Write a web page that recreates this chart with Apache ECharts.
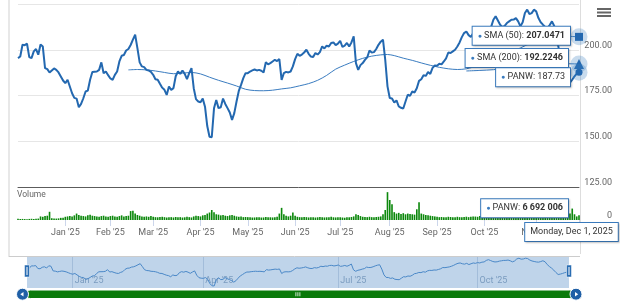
<!DOCTYPE html>
<html><head><meta charset="utf-8">
<script src="https://cdn.jsdelivr.net/npm/echarts@6/dist/echarts.min.js"></script>
<style>html,body{margin:0;padding:0;background:#fff;}#chart{width:620px;height:303px;}</style>
</head><body><div id="chart"></div>
<script>
// ---------- DATA ----------
const tradingMonths = [
  ['2024-12', [2,3,4,5,6,9,10,11,12,13,16,17,18,19,20,23,24,26,27,30,31]],
  ['2025-01', [2,3,6,7,8,10,13,14,15,16,17,21,22,23,24,27,28,29,30,31]],
  ['2025-02', [3,4,5,6,7,10,11,12,13,14,18,19,20,21,24,25,26,27,28]],
  ['2025-03', [3,4,5,6,7,10,11,12,13,14,17,18,19,20,21,24,25,26,27,28,31]],
  ['2025-04', [1,2,3,4,7,8,9,10,11,14,15,16,17,21,22,23,24,25,28,29,30]],
  ['2025-05', [1,2,5,6,7,8,9,12,13,14,15,16,19,20,21,22,23,27,28,29,30]],
  ['2025-06', [2,3,4,5,6,9,10,11,12,13,16,17,18,20,23,24,25,26,27,30]],
  ['2025-07', [1,2,3,7,8,9,10,11,14,15,16,17,18,21,22,23,24,25,28,29,30,31]],
  ['2025-08', [1,4,5,6,7,8,11,12,13,14,15,18,19,20,21,22,25,26,27,28,29]],
  ['2025-09', [2,3,4,5,8,9,10,11,12,15,16,17,18,19,22,23,24,25,26,29,30]],
  ['2025-10', [1,2,3,6,7,8,9,10,13,14,15,16,17,20,21,22,23,24,27,28,29,30,31]],
  ['2025-11', [3,4,5,6,7,10,11,12,13,14,17,18,19,20,21,24,25,26,28]],
  ['2025-12', [1]]
];

// PANW closing prices per month
const closeDec24 = [195.4,196.3,202.7,202.5,203.3,196.0,195.4,199.1,200.4,197.3,202.9,201.8,190.0,189.4,187.6,188.7,189.8,189.0,187.6,185.4,183.2];
const closeJan25 = [181.7,183.6,179.9,176.2,173.7,173.3,168.6,170.4,173.5,177.2,177.7,183.6,187.8,188.0,188.1,189.0,193.1,187.2,188.1,186.1];
const closeFeb25 = [184.3,183.6,186.3,188.1,193.6,196.7,197.1,199.6,200.4,202.6,205.5,208.2,200.9,193.1,190.9,190.5,189.0,188.7,187.9];
const closeMar25 = [186.3,183.9,183.6,181.4,179.3,178.1,175.3,179.9,178.1,179.0,185.5,188.1,186.8,188.7,186.8,183.9,187.2,190.0,179.0,173.0,171.7];
const closeApr25 = [171.3,173.3,168.9,158.3,152.5,152.2,168.0,172.6,168.1,168.6,173.3,170.4,168.1,165.7,161.7,165.4,171.7,177.5,180.8,184.5,187.2];
const closeMay25 = [187.2,188.1,188.7,189.2,188.7,189.0,188.5,187.6,193.2,192.0,192.7,193.6,194.5,193.8,194.9,183.5,187.2,187.9,187.6,188.1,190.9];
const closeJun25 = [194.9,197.8,196.7,197.4,198.5,200.0,197.8,196.3,196.0,198.2,197.4,198.7,201.8,200.7,202.2,201.8,203.7,204.0,202.5,203.3];
const closeJul25 = [204.9,201.5,202.2,203.7,201.8,204.0,207.3,192.7,189.0,191.6,192.7,194.5,195.8,199.6,198.5,198.7,200.4,202.7,204.4,205.5,194.5,180.0];
const closeAug25 = [173.6,173.4,171.2,172.3,169.0,168.3,167.9,171.7,175.4,174.8,177.2,176.6,179.0,183.0,183.9,186.1,185.7,187.9,186.8,190.1,191.4];
const closeSep25 = [191.2,192.3,192.0,193.6,195.3,198.5,198.2,199.1,200.0,201.8,204.0,206.9,209.1,210.0,208.0,207.0,209.0,206.0,208.0,210.0,209.0];
const closeOct25 = [211.0,210.0,212.0,212.5,216.4,218.3,216.0,213.7,212.5,213.0,214.6,215.5,216.4,216.5,217.3,215.5,212.8,215.0,220.1,221.9,219.5,220.0,221.9];
const closeNov25 = [221.0,217.3,215.0,213.7,212.5,212.0,213.5,215.5,213.0,206.0,201.0,197.0,192.0,186.0,181.0,182.0,183.6,185.5,187.0];
const closeDec25 = [187.73];

// Volume per month, millions of shares
const volDec24 = [1.6,1.4,1.5,1.3,1.2,1.5,1.7,1.4,1.6,2.0,5.0,4.5,5.5,6.0,11.5,2.5,2.2,2.0,2.3,3.0,3.2];
const volJan25 = [4.5,5.0,5.5,4.8,6.5,9.0,7.0,6.0,5.5,5.0,6.5,7.5,6.0,5.5,5.0,4.5,5.5,6.0,5.0,4.5];
const volFeb25 = [5.5,6.0,5.0,4.5,5.5,6.5,5.0,5.5,6.0,12.5,13.0,9.0,7.0,6.0,5.0,4.5,5.0,4.5,5.5];
const volMar25 = [4.5,4.0,3.8,4.2,4.5,4.0,3.5,3.8,4.0,3.6,4.2,3.8,4.0,3.5,3.8,4.5,4.0,3.6,5.0,6.0,5.5];
const volApr25 = [5.0,6.5,7.0,9.0,10.5,14.0,11.0,8.0,7.5,6.5,7.0,6.0,5.5,6.5,7.0,6.0,5.0,4.5,5.0,4.0,4.2];
const volMay25 = [4.0,3.8,3.5,3.6,4.0,3.8,3.5,3.6,4.2,4.0,3.8,3.6,4.0,4.5,9.0,17.0,8.0,6.0,5.0,6.0,10.5];
const volJun25 = [6.0,4.5,4.0,3.8,4.2,4.0,3.6,3.8,4.0,3.5,3.8,4.2,4.0,3.6,3.8,4.0,4.5,3.8,3.6,4.0];
const volJul25 = [4.0,3.5,3.2,4.0,3.8,4.2,5.0,8.0,7.0,5.5,4.5,4.2,4.0,4.5,4.0,3.8,4.2,4.5,5.0,8.0,14.0,39.0];
const volAug25 = [28.0,22.0,11.0,9.0,10.0,8.5,9.5,8.0,9.0,8.5,8.0,7.5,15.0,25.0,9.0,8.0,7.0,6.5,6.0,5.5,5.0];
const volSep25 = [4.5,4.0,4.2,3.8,4.0,4.5,4.2,3.8,4.0,4.5,4.0,3.8,4.2,4.6,4.0,4.5,5.0,4.8,4.5,5.5,5.0];
const volOct25 = [5.0,4.5,4.8,5.5,5.0,4.8,5.2,5.5,5.0,4.5,4.8,5.0,5.5,6.0,5.0,4.8,5.2,5.5,6.0,6.5,6.0,5.5,5.0];
const volNov25 = [5.5,7.0,6.0,5.5,5.0,5.5,5.0,4.8,5.2,6.0,7.0,8.0,9.0,18.0,14.0,9.0,16.0,8.0,5.0];
const volDec25 = [6.692006];

// SMA readings: [trading-day index, value]
const sma50Points = [[49,189.0],[53,189.2],[57,189.0],[61,188.4],[65,187.6],[69,186.9],[73,187.2],[77,187.6],[81,186.8],[85,185.0],[89,183.3],[93,181.8],[97,180.2],[101,178.4],[105,177.7],[109,177.6],[113,177.9],[117,178.6],[121,179.2],[125,180.3],[129,181.5],[133,183.3],[137,186.0],[141,189.4],[145,191.6],[149,193.6],[153,195.3],[157,196.5],[161,197.2],[164,197.4],[167,196.8],[171,195.4],[175,194.2],[179,192.8],[183,191.5],[187,190.4],[191,189.6],[195,189.2],[199,189.6],[205,191.6],[211,194.3],[217,197.6],[223,201.0],[229,204.3],[235,206.4],[241,207.4],[245,207.3],[249,207.0471]];
const sma200Points = [[199,188.4],[205,188.7],[211,189.1],[217,190.0],[223,191.0],[229,191.9],[235,192.4],[241,192.4],[249,192.2246]];

const priceTicks = [125,150,175,200,225];
const monthNames = ['Jan','Feb','Mar','Apr','May','Jun','Jul','Aug','Sep','Oct','Nov','Dec'];
const dayNames = ['Sunday','Monday','Tuesday','Wednesday','Thursday','Friday','Saturday'];

// ---------- BUILD ----------
const dates = [];
tradingMonths.forEach(m => m[1].forEach(d => dates.push(m[0] + '-' + String(d).padStart(2,'0'))));
const close = [].concat(closeDec24,closeJan25,closeFeb25,closeMar25,closeApr25,closeMay25,closeJun25,closeJul25,closeAug25,closeSep25,closeOct25,closeNov25,closeDec25);
const volume = [].concat(volDec24,volJan25,volFeb25,volMar25,volApr25,volMay25,volJun25,volJul25,volAug25,volSep25,volOct25,volNov25,volDec25).map(v => Math.round(v*1e6));
const sma50 = sma50Points.map(p => [dates[p[0]], p[1]]);
const sma200 = sma200Points.map(p => [dates[p[0]], p[1]]);

const lastI = dates.length - 1, lastDate = dates[lastI];
const isMonthStart = i => i > 0 && dates[i].slice(0,7) !== dates[i-1].slice(0,7);
const isQuarterStart = i => isMonthStart(i) && ['01','04','07','10'].includes(dates[i].slice(5,7));
const monLabel = d => monthNames[+d.slice(5,7)-1] + " '" + d.slice(2,4);
const fmtThousands = v => String(v).replace(/\B(?=(\d{3})+(?!\d))/g, ' ');
const dObj = new Date(lastDate + 'T12:00:00');
const longDate = dayNames[dObj.getDay()] + ', ' + monthNames[dObj.getMonth()] + ' ' + dObj.getDate() + ', ' + dObj.getFullYear();

const FONT = 'Roboto';
const PRICE_C = '#2368b0', SMA_C = '#3a7cc0', BOX_C = '#3b7cbf', VOL_C = '#0c880c', HALO = 'rgba(58,124,192,0.28)';

function boxLabel(text, dist, dy, pos) {
  return {
    show: true, position: pos || 'left', distance: dist, offset: [pos === 'bottom' ? dy : 0, pos === 'bottom' ? 0 : dy],
    formatter: text, fontSize: 9, color: '#333', fontFamily: FONT, lineHeight: 12,
    backgroundColor: '#fff', borderColor: BOX_C, borderWidth: 1, padding: [3,5,3,5],
    shadowColor: 'rgba(0,0,0,0.18)', shadowBlur: 2, shadowOffsetX: 1, shadowOffsetY: 1,
    rich: {
      d: { color: BOX_C, fontSize: 7, lineHeight: 12, fontFamily: FONT },
      t: { color: '#333', fontSize: 9, lineHeight: 12, fontFamily: FONT },
      b: { color: '#333', fontSize: 9, lineHeight: 12, fontWeight: 'bold', fontFamily: FONT }
    }
  };
}
function endMarker(value, symbol, size, label) {
  return {
    silent: true, z: 10, animation: false,
    data: [
      { coord: [lastDate, value], symbol: 'circle', symbolSize: 17, itemStyle: { color: HALO }, label: { show: false } },
      { coord: [lastDate, value], symbol: symbol, symbolSize: size, itemStyle: { color: PRICE_C }, label: label }
    ]
  };
}

const sma50Last = sma50Points[sma50Points.length-1][1];
const sma200Last = sma200Points[sma200Points.length-1][1];

const chart = echarts.init(document.getElementById('chart'), null, { renderer: 'canvas', width: 620, height: 303 });
const option = {
  animation: false,
  backgroundColor: '#fff',
  textStyle: { fontFamily: FONT },
  grid: [
    { left: 18, right: 41, top: 4, height: 183 },
    { left: 18, right: 41, top: 188, height: 32 },
    { left: 27, right: 51, top: 257, height: 31 }
  ],
  xAxis: [
    { gridIndex: 0, type: 'category', data: dates, boundaryGap: false,
      axisLine: { show: true, onZero: false, lineStyle: { color: '#5c5c5c', width: 1 } },
      axisTick: { show: false }, axisLabel: { show: false }, splitLine: { show: false } },
    { gridIndex: 1, type: 'category', data: dates, boundaryGap: false,
      axisLine: { show: false },
      axisTick: { show: true, length: 6, interval: i => isMonthStart(i), lineStyle: { color: '#ccd6eb' } },
      axisLabel: { show: true, interval: i => isMonthStart(i), formatter: monLabel, color: '#666', fontSize: 9, margin: 8, fontFamily: FONT },
      splitLine: { show: false } },
    { gridIndex: 2, type: 'category', data: dates, boundaryGap: false,
      axisLine: { show: false }, axisTick: { show: false },
      axisLabel: { show: true, inside: true, interval: i => isQuarterStart(i), formatter: monLabel, color: '#8a9fb6', fontSize: 9, align: 'left', margin: 3, padding: [0,0,0,2], fontFamily: FONT },
      splitLine: { show: true, interval: i => isQuarterStart(i), lineStyle: { color: '#cfd8e3', width: 1 } } }
  ],
  yAxis: [
    { gridIndex: 0, type: 'value', position: 'right', min: priceTicks[0], max: priceTicks[priceTicks.length-1], interval: 25,
      axisLine: { show: false }, axisTick: { show: false },
      splitLine: { show: true, lineStyle: { color: '#e6e6e6' } },
      axisLabel: { formatter: v => v === priceTicks[priceTicks.length-1] ? '' : v.toFixed(2), color: '#666', fontSize: 9, align: 'right', margin: 33, verticalAlign: 'bottom', fontFamily: FONT } },
    { gridIndex: 1, type: 'value', position: 'right', min: 0, max: 44800000, interval: 44800000,
      axisLine: { show: false }, axisTick: { show: false }, splitLine: { show: false },
      axisLabel: { formatter: v => v === 0 ? '0' : '', color: '#666', fontSize: 9, align: 'right', margin: 33, verticalAlign: 'bottom', fontFamily: FONT } },
    { gridIndex: 2, type: 'value', min: 147, max: 225, show: false }
  ],
  series: [
    { name: 'SMA (200)', type: 'line', xAxisIndex: 0, yAxisIndex: 0, data: sma200, showSymbol: false, smooth: 0.3,
      lineStyle: { width: 1, color: SMA_C }, z: 2,
      markPoint: endMarker(sma200Last, 'triangle', 10, boxLabel('{d|●} {t|SMA (200):} {b|' + sma200Last.toFixed(4) + '}', 6, -6)) },
    { name: 'SMA (50)', type: 'line', xAxisIndex: 0, yAxisIndex: 0, data: sma50, showSymbol: false, smooth: 0.3,
      lineStyle: { width: 1, color: SMA_C }, z: 2,
      markPoint: endMarker(sma50Last, 'rect', 8, boxLabel('{d|●} {t|SMA (50):} {b|' + sma50Last.toFixed(4) + '}', 5, -1)) },
    { name: 'PANW', type: 'line', xAxisIndex: 0, yAxisIndex: 0, data: close, showSymbol: false,
      lineStyle: { width: 2, color: PRICE_C }, z: 3,
      markPoint: endMarker(close[lastI], 'circle', 7, boxLabel('{d|●} {t|PANW: ' + close[lastI].toFixed(2) + '}', 5.5, 5)) },
    { name: 'Volume', type: 'bar', xAxisIndex: 1, yAxisIndex: 1, data: volume, barWidth: '72%',
      itemStyle: { color: VOL_C }, z: 2,
      markPoint: { silent: true, z: 10, animation: false, data: [
        { coord: [lastDate, volume[lastI]], symbol: 'circle', symbolSize: 0, label: boxLabel('{d|●} {t|PANW:} {b|' + fmtThousands(volume[lastI]) + '}', 11, -7) },
        { coord: [lastDate, 0], symbol: 'circle', symbolSize: 0, label: boxLabel('{t|' + longDate + '}', 3, -7.5, 'bottom') }
      ] } },
    { name: 'Navigator', type: 'line', xAxisIndex: 2, yAxisIndex: 2, data: close, showSymbol: false, silent: true,
      lineStyle: { width: 1, color: '#4a88c8' }, z: 3,
      markArea: { silent: true, itemStyle: { color: 'rgba(102,153,204,0.42)' }, data: [[{ xAxis: dates[0] }, { xAxis: lastDate }]] } }
  ],
  graphic: [
    { type: 'line', silent: true, shape: { x1: 9, y1: 0, x2: 9, y2: 257 }, style: { stroke: '#e8e8e8', lineWidth: 2 } },
    { type: 'line', silent: true, shape: { x1: 580.5, y1: 0, x2: 580.5, y2: 254 }, style: { stroke: '#dddddd', lineWidth: 1 } },
    { type: 'line', silent: true, shape: { x1: 9, y1: 256.5, x2: 580, y2: 256.5 }, style: { stroke: '#cccccc', lineWidth: 1 } },
    { type: 'rect', silent: true, shape: { x: 597, y: 8, width: 14, height: 2 }, style: { fill: '#666' } },
    { type: 'rect', silent: true, shape: { x: 597, y: 11.5, width: 14, height: 2 }, style: { fill: '#666' } },
    { type: 'rect', silent: true, shape: { x: 597, y: 15, width: 14, height: 2 }, style: { fill: '#666' } },
    { type: 'text', silent: true, left: 17, top: 190, style: { text: 'Volume', fontSize: 8.5, fill: '#666', fontFamily: FONT } },
    // navigator handles
    { type: 'rect', silent: true, z: 20, shape: { x: 24.5, y: 265, width: 5, height: 12 }, style: { fill: '#2a6db2', stroke: '#fff', lineWidth: 0.5 } },
    { type: 'rect', silent: true, z: 21, shape: { x: 26.5, y: 267, width: 1, height: 8 }, style: { fill: '#fff' } },
    { type: 'rect', silent: true, z: 20, shape: { x: 566.5, y: 265, width: 5, height: 12 }, style: { fill: '#2a6db2', stroke: '#fff', lineWidth: 0.5 } },
    { type: 'rect', silent: true, z: 21, shape: { x: 568.5, y: 267, width: 1, height: 8 }, style: { fill: '#fff' } },
    // scrollbar
    { type: 'rect', silent: true, z: 20, shape: { x: 26, y: 290, width: 548, height: 8.5, r: 4.25 }, style: { fill: '#0a7a0a', stroke: '#fff', lineWidth: 1 } },
    { type: 'circle', silent: true, z: 21, shape: { cx: 22.5, cy: 294.2, r: 6 }, style: { fill: '#1f5fa6', stroke: '#fff', lineWidth: 1 } },
    { type: 'polygon', silent: true, z: 22, shape: { points: [[20.3,294.2],[23.5,292],[23.5,296.4]] }, style: { fill: '#fff' } },
    { type: 'circle', silent: true, z: 21, shape: { cx: 576, cy: 294.2, r: 6 }, style: { fill: '#1f5fa6', stroke: '#fff', lineWidth: 1 } },
    { type: 'polygon', silent: true, z: 22, shape: { points: [[578.2,294.2],[575,292],[575,296.4]] }, style: { fill: '#fff' } },
    { type: 'rect', silent: true, z: 22, shape: { x: 295.5, y: 292.2, width: 0.8, height: 4 }, style: { fill: '#fff' } },
    { type: 'rect', silent: true, z: 22, shape: { x: 297.5, y: 292.2, width: 0.8, height: 4 }, style: { fill: '#fff' } },
    { type: 'rect', silent: true, z: 22, shape: { x: 299.5, y: 292.2, width: 0.8, height: 4 }, style: { fill: '#fff' } }
  ]
};
chart.setOption(option);
</script>
</body></html>
